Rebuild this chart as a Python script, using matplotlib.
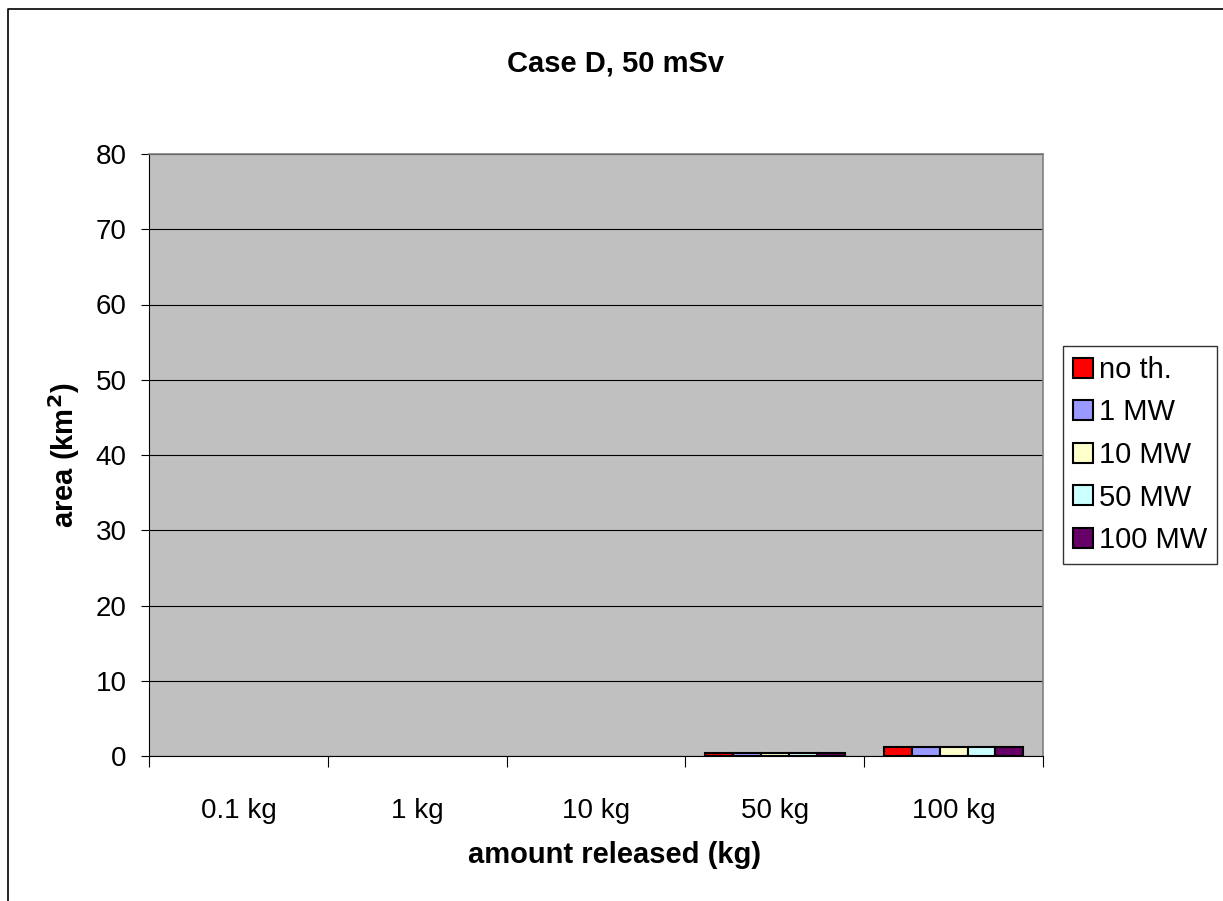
import matplotlib.pyplot as plt
import numpy as np
from matplotlib.lines import Line2D
from matplotlib.patches import Patch

plt.rcParams['font.family'] = ['Liberation Sans', 'DejaVu Sans']

amounts = ['0.1 kg', '1 kg', '10 kg', '50 kg', '100 kg']
series = ['no th.', '1 MW', '10 MW', '50 MW', '100 MW']
colors = ['#ff0000', '#9999ff', '#ffffcc', '#ccffff', '#660066']
values = {
    'no th.': [0.0, 0.0, 0.0, 0.35, 1.2],
    '1 MW': [0.0, 0.0, 0.0, 0.35, 1.2],
    '10 MW': [0.0, 0.0, 0.0, 0.35, 1.2],
    '50 MW': [0.0, 0.0, 0.0, 0.35, 1.2],
    '100 MW': [0.0, 0.0, 0.0, 0.35, 1.2],
}

W, H = 1223, 901
fig = plt.figure(figsize=(W / 100, H / 100), dpi=100)
# outer chart frame (only left and top edges fall inside the image)
fig.lines.append(Line2D([8 / W, 8 / W, 1], [0, 1 - 9 / H, 1 - 9 / H],
                        transform=fig.transFigure, color='black', linewidth=1.2))

ax = fig.add_axes([149 / W, 1 - 756 / H, 894 / W, 602 / H])
ax.set_facecolor('#c0c0c0')

x = np.arange(len(amounts))
w = 0.78 / len(series)
for i, s in enumerate(series):
    v = np.array(values[s])
    bars = ax.bar(x - 0.39 + w * (i + 0.5), v, w, color=colors[i],
                  edgecolor='black', linewidth=1.5)
    for b, val in zip(bars, v):
        if val == 0:
            b.set_linewidth(0)

ax.set_xlim(-0.5, len(amounts) - 0.5)
ax.set_ylim(0, 80)
ax.set_yticks(range(0, 81, 10))
ax.yaxis.grid(True, color='black', linewidth=0.8)
ax.set_axisbelow(True)
ax.set_xticks(np.arange(-0.5, len(amounts), 1))
ax.set_xticklabels([])
ax.set_xticks(x, minor=True)
ax.set_xticklabels(amounts, minor=True)
ax.tick_params(axis='x', which='minor', length=0, pad=30, labelsize=20)
ax.tick_params(axis='x', which='major', length=8, direction='out')
ax.tick_params(axis='y', length=6, labelsize=20, pad=10)

for side in ['top', 'right']:
    ax.spines[side].set_color('#808080')
    ax.spines[side].set_linewidth(1.2)
for side in ['left', 'bottom']:
    ax.spines[side].set_color('black')

fig.text(615 / W, 1 - 855 / H, 'amount released (kg)', fontsize=21,
         fontweight='bold', ha='center', va='center')
fig.text(64 / W, 1 - 455 / H, 'area (km$^{\\mathbf{2}}$)', fontsize=21,
         fontweight='bold', ha='center', va='center', rotation=90)
fig.text(616 / W, 1 - 63 / H, 'Case D, 50 mSv', fontsize=21,
         fontweight='bold', ha='center', va='center')

handles = [Patch(facecolor=c, edgecolor='black', linewidth=1.5, label=s)
           for s, c in zip(series, colors)]
leg = fig.legend(handles=handles, loc='center left',
                 bbox_to_anchor=(1063 / W, 1 - 455 / H),
                 fontsize=21, frameon=True, fancybox=False, edgecolor='black',
                 handlelength=0.67, handleheight=0.67, handletextpad=0.2,
                 labelspacing=0.5, borderpad=0.35, borderaxespad=0)
leg.get_frame().set_linewidth(1)

fig.savefig('out.png', dpi=100)
